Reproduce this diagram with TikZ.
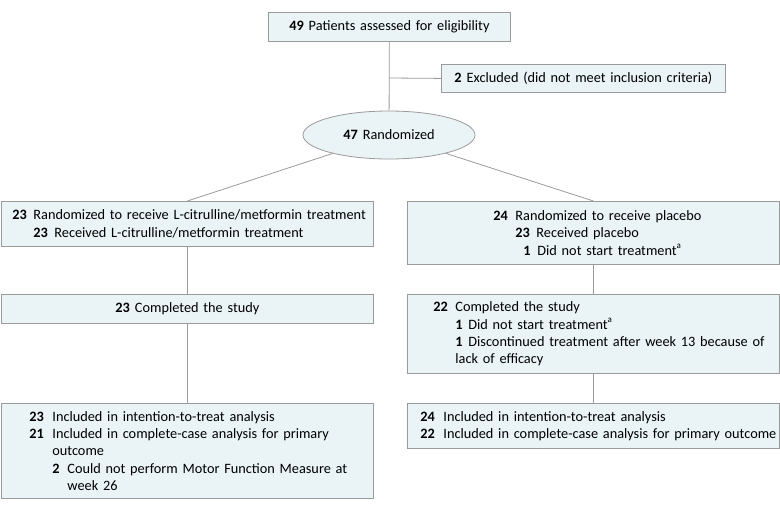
\documentclass[tikz,border=0pt]{standalone}
\usepackage{fontspec}
\setmainfont{Carlito}
\usepackage{tikz}
\usetikzlibrary{shapes.geometric}

\definecolor{boxfill}{HTML}{EAF3F5}
\definecolor{boxline}{HTML}{9A9A9A}

\newcommand{\itemrow}[4]{\hspace*{#1pt}\makebox[\dimexpr#2pt-#1pt\relax][l]{\textbf{#3}}#4}
\newcommand{\controw}[2]{\hspace*{#1pt}#2}
\newcommand{\fnmark}{\raisebox{0.9ex}{\fontsize{9}{9}\selectfont a}}

\begin{document}
\begin{tikzpicture}[x=1pt,y=-1pt,
        flowbox/.style={draw=boxline,fill=boxfill,line width=0.8pt,inner xsep=0pt,inner ysep=0pt,
            anchor=north west,align=left,text width=372pt,font=\fontsize{14.3}{17.3}\selectfont},
        conn/.style={draw=boxline,line width=0.8pt}]
        \useasboundingbox (0,0) rectangle (780,512);

        \node[flowbox,align=center,text width=242pt,minimum height=29pt] (elig) at (268,12) {\textbf{49}\hspace{5pt}Patients assessed for eligibility};
        \node[flowbox,align=center,text width=284pt,minimum height=28pt] (excl) at (441,64) {\textbf{2}\hspace{5pt}Excluded (did not meet inclusion criteria)};
        \node[ellipse,draw=boxline,fill=boxfill,line width=0.8pt,inner sep=0pt,minimum width=172pt,minimum height=48pt,font=\fontsize{14.3}{17.3}\selectfont] (rand) at (389,135) {\textbf{47}\hspace{5pt}Randomized};

        % left arm
        \node[flowbox,minimum height=45pt] (L1) at (1,201) {%
            \itemrow{11}{32}{23}{Randomized to receive L-citrulline/metformin treatment}\\
            \itemrow{32}{53}{23}{Received L-citrulline/metformin treatment}};
        \node[flowbox,align=center,minimum height=29pt] (L2) at (1,294) {\textbf{23}\hspace{5pt}Completed the study};
        \node[flowbox,minimum height=95pt] (L3) at (1,403) {%
            \itemrow{28}{51}{23}{Included in intention-to-treat analysis}\\
            \itemrow{28}{51}{21}{Included in complete-case analysis for primary}\\
            \controw{51}{outcome}\\
            \itemrow{51}{66}{2}{Could not perform Motor Function Measure at}\\
            \controw{66}{week 26}};

        % right arm
        \node[flowbox,minimum height=63pt] (R1) at (407,201) {%
            \itemrow{86}{108}{24}{Randomized to receive placebo}\\
            \itemrow{108}{129}{23}{Received placebo}\\
            \itemrow{116}{130}{1}{Did not start treatment\fnmark}};
        \node[flowbox,minimum height=79pt] (R2) at (407,294) {%
            \itemrow{26}{48}{22}{Completed the study}\\
            \itemrow{48}{61}{1}{Did not start treatment\fnmark}\\
            \itemrow{48}{61}{1}{Discontinued treatment after week 13 because of}\\
            \controw{48}{lack of efficacy}};
        \node[flowbox,minimum height=45pt] (R3) at (407,403) {%
            \itemrow{13}{36}{24}{Included in intention-to-treat analysis}\\
            \itemrow{13}{36}{22}{Included in complete-case analysis for primary outcome}};

        \coordinate (branch) at (389,78);

        \draw[conn] (elig) -- (rand);
        \draw[conn] (branch) -- (excl.west);
        \draw[conn] (rand) -- (L1.north);
        \draw[conn] (rand) -- (R1.north);
        \draw[conn] (L1) -- (L2);
        \draw[conn] (L2) -- (L3);
        \draw[conn] (R1) -- (R2);
        \draw[conn] (R2) -- (R3);
    \end{tikzpicture}
\end{document}
